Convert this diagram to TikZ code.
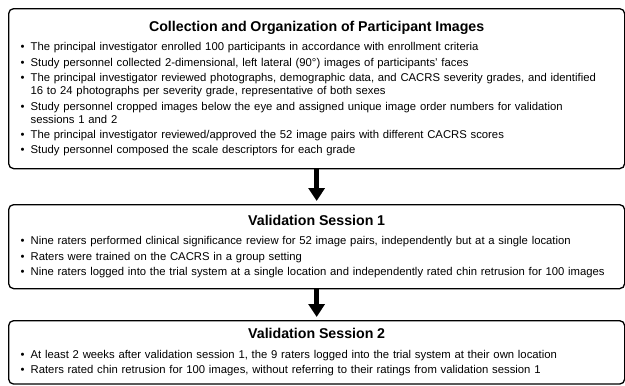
\documentclass[tikz,border=0pt]{standalone}
\usepackage{fontspec}
\setmainfont{Liberation Sans}
\usetikzlibrary{arrows.meta}
\newcommand{\bul}{\par\vskip2.4pt\hangindent=10pt\hangafter=1\noindent\makebox[10pt][l]{\textbullet}}
\newcommand{\stagetitle}[1]{{\centering\fontsize{14.2}{15}\bfseries #1\par}\vskip4pt}

\begin{document}
\begin{tikzpicture}
    [
    x=1pt, y=1pt,
    stagebox/.style={
      draw=black,
      line width=1.3pt,
      rounded corners=5pt,
      anchor=north west,
      text width=592pt,
      inner xsep=12pt,
      inner ysep=8pt,
      font=\fontsize{11.3}{13}\selectfont\raggedright
    },
    bigarrow/.style={
      line width=4.6pt,
      -{Triangle[width=16pt,length=13pt]},
      shorten >=3pt
    }]
    \useasboundingbox (0,0) rectangle (625,-386);
    \node (collect) at (8,-8) [stagebox, minimum height=160pt] {%
      \stagetitle{Collection and Organization of Participant Images}%
      \bul The principal investigator enrolled 100 participants in accordance with enrollment criteria
      \bul Study personnel collected 2-dimensional, left lateral (90°) images of participants’ faces
      \bul The principal investigator reviewed photographs, demographic data, and CACRS severity grades, and identified\newline 16 to 24 photographs per severity grade, representative of both sexes
      \bul Study personnel cropped images below the eye and assigned unique image order numbers for validation\newline sessions 1 and 2
      \bul The principal investigator reviewed/approved the 52 image pairs with different CACRS scores
      \bul Study personnel composed the scale descriptors for each grade};
    \node (session1) at (8,-204) [stagebox, minimum height=84pt] {%
      \stagetitle{Validation Session 1}%
      \bul Nine raters performed clinical significance review for 52 image pairs, independently but at a single location
      \bul Raters were trained on the CACRS in a group setting
      \bul Nine raters logged into the trial system at a single location and independently rated chin retrusion for 100 images};
    \node (session2) at (8,-320) [stagebox] {%
      \stagetitle{Validation Session 2}%
      \bul At least 2 weeks after validation session 1, the 9 raters logged into the trial system at their own location
      \bul Raters rated chin retrusion for 100 images, without referring to their ratings from validation session 1
      \par\vspace*{14pt}};
    \draw [bigarrow] (collect.south) -- (session1.north);
    \draw [bigarrow] (session1.south) -- (session2.north);
\end{tikzpicture}
\end{document}
